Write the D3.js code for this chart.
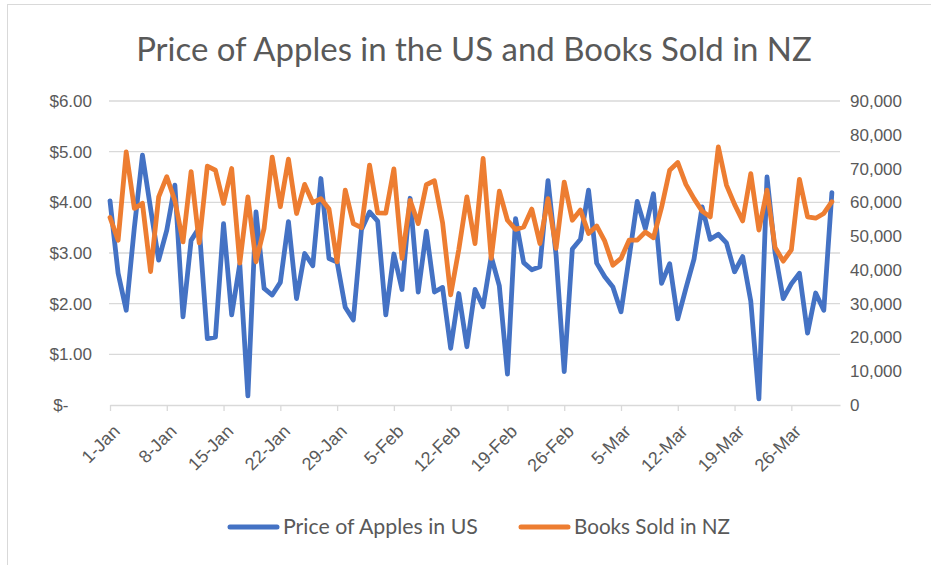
<!DOCTYPE html>
<html>
<head>
<meta charset="utf-8">
<script src="https://cdn.jsdelivr.net/npm/d3@7"></script>
<style>
  body { margin: 0; background: #fff; }
  svg { display: block; font-family: Lato, "Open Sans", sans-serif; }
  .tick text { fill: #595959; font-size: 17px; }
  .x-axis .tick text { font-size: 18px; }
  .grid line { stroke: #d9d9d9; stroke-width: 1.3; }
  .x-axis path, .x-axis line { stroke: #d9d9d9; stroke-width: 1.3; }
  .title { fill: #595959; }
  .legend text { fill: #595959; font-size: 18px; }
</style>
</head>
<body>
<div id="wrapper"></div>
<script>
const firstDay = "2021-01-01";
const seriesNames = ["Price of Apples in US", "Books Sold in NZ"];
const seriesColors = ["#4472c4", "#ed7d31"];
const chartTitle = "Price of Apples in the US and Books Sold in NZ";

// daily price in US$, 1-Jan .. 31-Mar
const applePrices = [
  4.03, 2.60, 1.87, 3.50, 4.93, 3.88, 2.86, 3.45, 4.34, 1.74,
  3.25, 3.50, 1.31, 1.34, 3.58, 1.78, 2.78, 0.18, 3.81, 2.30,
  2.17, 2.42, 3.62, 2.10, 2.99, 2.75, 4.47, 2.89, 2.82, 1.93,
  1.68, 3.46, 3.81, 3.63, 1.78, 2.98, 2.28, 4.08, 2.23, 3.43,
  2.23, 2.32, 1.12, 2.20, 1.15, 2.28, 1.94, 2.93, 2.35, 0.61,
  3.68, 2.81, 2.67, 2.73, 4.43, 2.95, 0.66, 3.08, 3.27, 4.24,
  2.80, 2.53, 2.33, 1.84, 2.91, 4.02, 3.48, 4.17, 2.40, 2.79,
  1.70, 2.30, 2.88, 3.91, 3.27, 3.37, 3.20, 2.63, 2.93, 2.05,
  0.12, 4.50, 3.00, 2.10, 2.39, 2.60, 1.42, 2.21, 1.87, 4.19,
];

// daily books sold in NZ, same days
const booksSold = [
  55500, 48800, 74900, 58200, 59700, 39500, 61600, 67600, 60500, 48300,
  69100, 48000, 70700, 69500, 59700, 70000, 42000, 61600, 42400, 52300,
  73400, 58700, 72800, 56700, 65300, 59900, 61100, 58000, 42400, 63600,
  53700, 52500, 71000, 56900, 56800, 69900, 43400, 60600, 53700, 65200,
  66400, 54000, 32600, 46000, 61600, 47800, 73000, 43400, 63300, 54700,
  52000, 52700, 58000, 47800, 61100, 46400, 66000, 54700, 57700, 50800,
  53000, 48500, 41400, 43400, 48800, 48800, 51200, 49500, 58500, 69500,
  71800, 65300, 61100, 57400, 55700, 76400, 65100, 59400, 54500, 68500,
  51800, 63600, 46600, 42600, 45900, 66800, 55700, 55300, 56700, 60200,
];

const priceTicks = [0, 1, 2, 3, 4, 5, 6];
const bookTicks = [0, 10000, 20000, 30000, 40000, 50000, 60000, 70000, 80000, 90000];

function drawChart() {

  // 1. Access data

  const dateParser = d3.timeParse("%Y-%m-%d");
  const start = dateParser(firstDay);
  const end = d3.timeDay.offset(start, applePrices.length);
  const days = d3.timeDay.range(start, end);
  const dataset = days.map((date, i) => ({ date, price: applePrices[i], books: booksSold[i] }));

  const xAccessor = d => d.date;
  const priceAccessor = d => d.price;
  const booksAccessor = d => d.books;

  // 2. Create chart dimensions

  const dimensions = {
    width: 931,
    height: 565,
    margin: { top: 101, right: 91, bottom: 160, left: 110 },
  };
  dimensions.boundedWidth = dimensions.width - dimensions.margin.left - dimensions.margin.right;
  dimensions.boundedHeight = dimensions.height - dimensions.margin.top - dimensions.margin.bottom;

  // 3. Draw canvas

  const wrapper = d3.select("#wrapper")
    .append("svg")
      .attr("width", dimensions.width)
      .attr("height", dimensions.height);

  wrapper.append("rect")
      .attr("x", 7.5)
      .attr("y", 4.5)
      .attr("width", 960)
      .attr("height", 620)
      .attr("fill", "none")
      .attr("stroke", "#d9d9d9");

  const bounds = wrapper.append("g")
      .attr("transform", `translate(${dimensions.margin.left}, ${dimensions.margin.top})`);

  // 4. Create scales

  const xScale = d3.scaleTime()
    .domain([start, end])
    .range([0, dimensions.boundedWidth]);

  const priceScale = d3.scaleLinear()
    .domain([0, 6])
    .range([dimensions.boundedHeight, 0]);

  const booksScale = d3.scaleLinear()
    .domain([0, 90000])
    .range([dimensions.boundedHeight, 0]);

  // 5. Draw peripherals (grid + axes first, lines on top)

  bounds.append("g")
      .attr("class", "grid")
    .selectAll("line")
    .data(priceTicks.slice(1))
    .join("line")
      .attr("x1", -1)
      .attr("x2", dimensions.boundedWidth)
      .attr("y1", d => priceScale(d))
      .attr("y2", d => priceScale(d));

  const weekTicks = d3.timeDay.range(start, end, 7);
  const xAxisGenerator = d3.axisBottom(xScale)
    .tickValues(weekTicks)
    .tickSizeInner(6)
    .tickSizeOuter(0)
    .tickFormat(d3.timeFormat("%-d-%b"));

  const xAxis = bounds.append("g")
      .attr("class", "x-axis")
      .attr("transform", `translate(0, ${dimensions.boundedHeight})`)
    .call(xAxisGenerator);

  xAxis.selectAll("text")
      .attr("x", 0)
      .attr("y", 0)
      .attr("dy", "0.35em")
      .attr("text-anchor", "end")
      .attr("transform", "translate(6, 23) rotate(-45)");

  const priceFormat = d => d === 0 ? "$-\u2007\u2007\u00a0" : d3.format("$.2f")(d);
  const yAxisLeft = bounds.append("g")
    .call(d3.axisLeft(priceScale).tickValues(priceTicks).tickSize(0).tickPadding(18).tickFormat(priceFormat));
  yAxisLeft.select(".domain").remove();

  const yAxisRight = bounds.append("g")
      .attr("transform", `translate(${dimensions.boundedWidth}, 0)`)
    .call(d3.axisRight(booksScale).tickValues(bookTicks).tickSize(0).tickPadding(10).tickFormat(d3.format(",")));
  yAxisRight.select(".domain").remove();

  // 6. Draw data

  const priceLine = d3.line()
    .x(d => xScale(xAccessor(d)))
    .y(d => priceScale(priceAccessor(d)));

  const booksLine = d3.line()
    .x(d => xScale(xAccessor(d)))
    .y(d => booksScale(booksAccessor(d)));

  bounds.append("path")
      .attr("d", priceLine(dataset))
      .attr("fill", "none")
      .attr("stroke", seriesColors[0])
      .attr("stroke-width", 4.8)
      .attr("stroke-linejoin", "round")
      .attr("stroke-linecap", "round");

  bounds.append("path")
      .attr("d", booksLine(dataset))
      .attr("fill", "none")
      .attr("stroke", seriesColors[1])
      .attr("stroke-width", 4.8)
      .attr("stroke-linejoin", "round")
      .attr("stroke-linecap", "round");

  // squeeze/stretch a text to the width it takes in the original
  const fitWidth = (sel, size, target) => {
    const w = sel.node().getComputedTextLength();
    sel.style("font-size", `${size * target / w}px`);
  };

  const title = wrapper.append("text")
      .attr("class", "title")
      .attr("x", 474)
      .attr("y", 61)
      .attr("text-anchor", "middle")
      .style("font-size", "28px")
      .text(chartTitle);
  fitWidth(title, 28, 676);

  // legend
  const legendX = [228, 519];
  const legendWidths = [195, 156];
  const legend = wrapper.append("g")
      .attr("class", "legend")
      .attr("transform", "translate(0, 527)");

  const items = legend.selectAll("g")
    .data(seriesNames)
    .join("g")
      .attr("transform", (d, i) => `translate(${legendX[i]}, 0)`);

  items.append("line")
      .attr("x1", 2)
      .attr("x2", 49)
      .attr("stroke", (d, i) => seriesColors[i])
      .attr("stroke-width", 5)
      .attr("stroke-linecap", "round");

  items.append("text")
      .attr("x", 55)
      .attr("dy", "0.35em")
      .text(d => d)
      .each(function(d, i) { fitWidth(d3.select(this), 18, legendWidths[i]); });
}
drawChart();
</script>
</body>
</html>
